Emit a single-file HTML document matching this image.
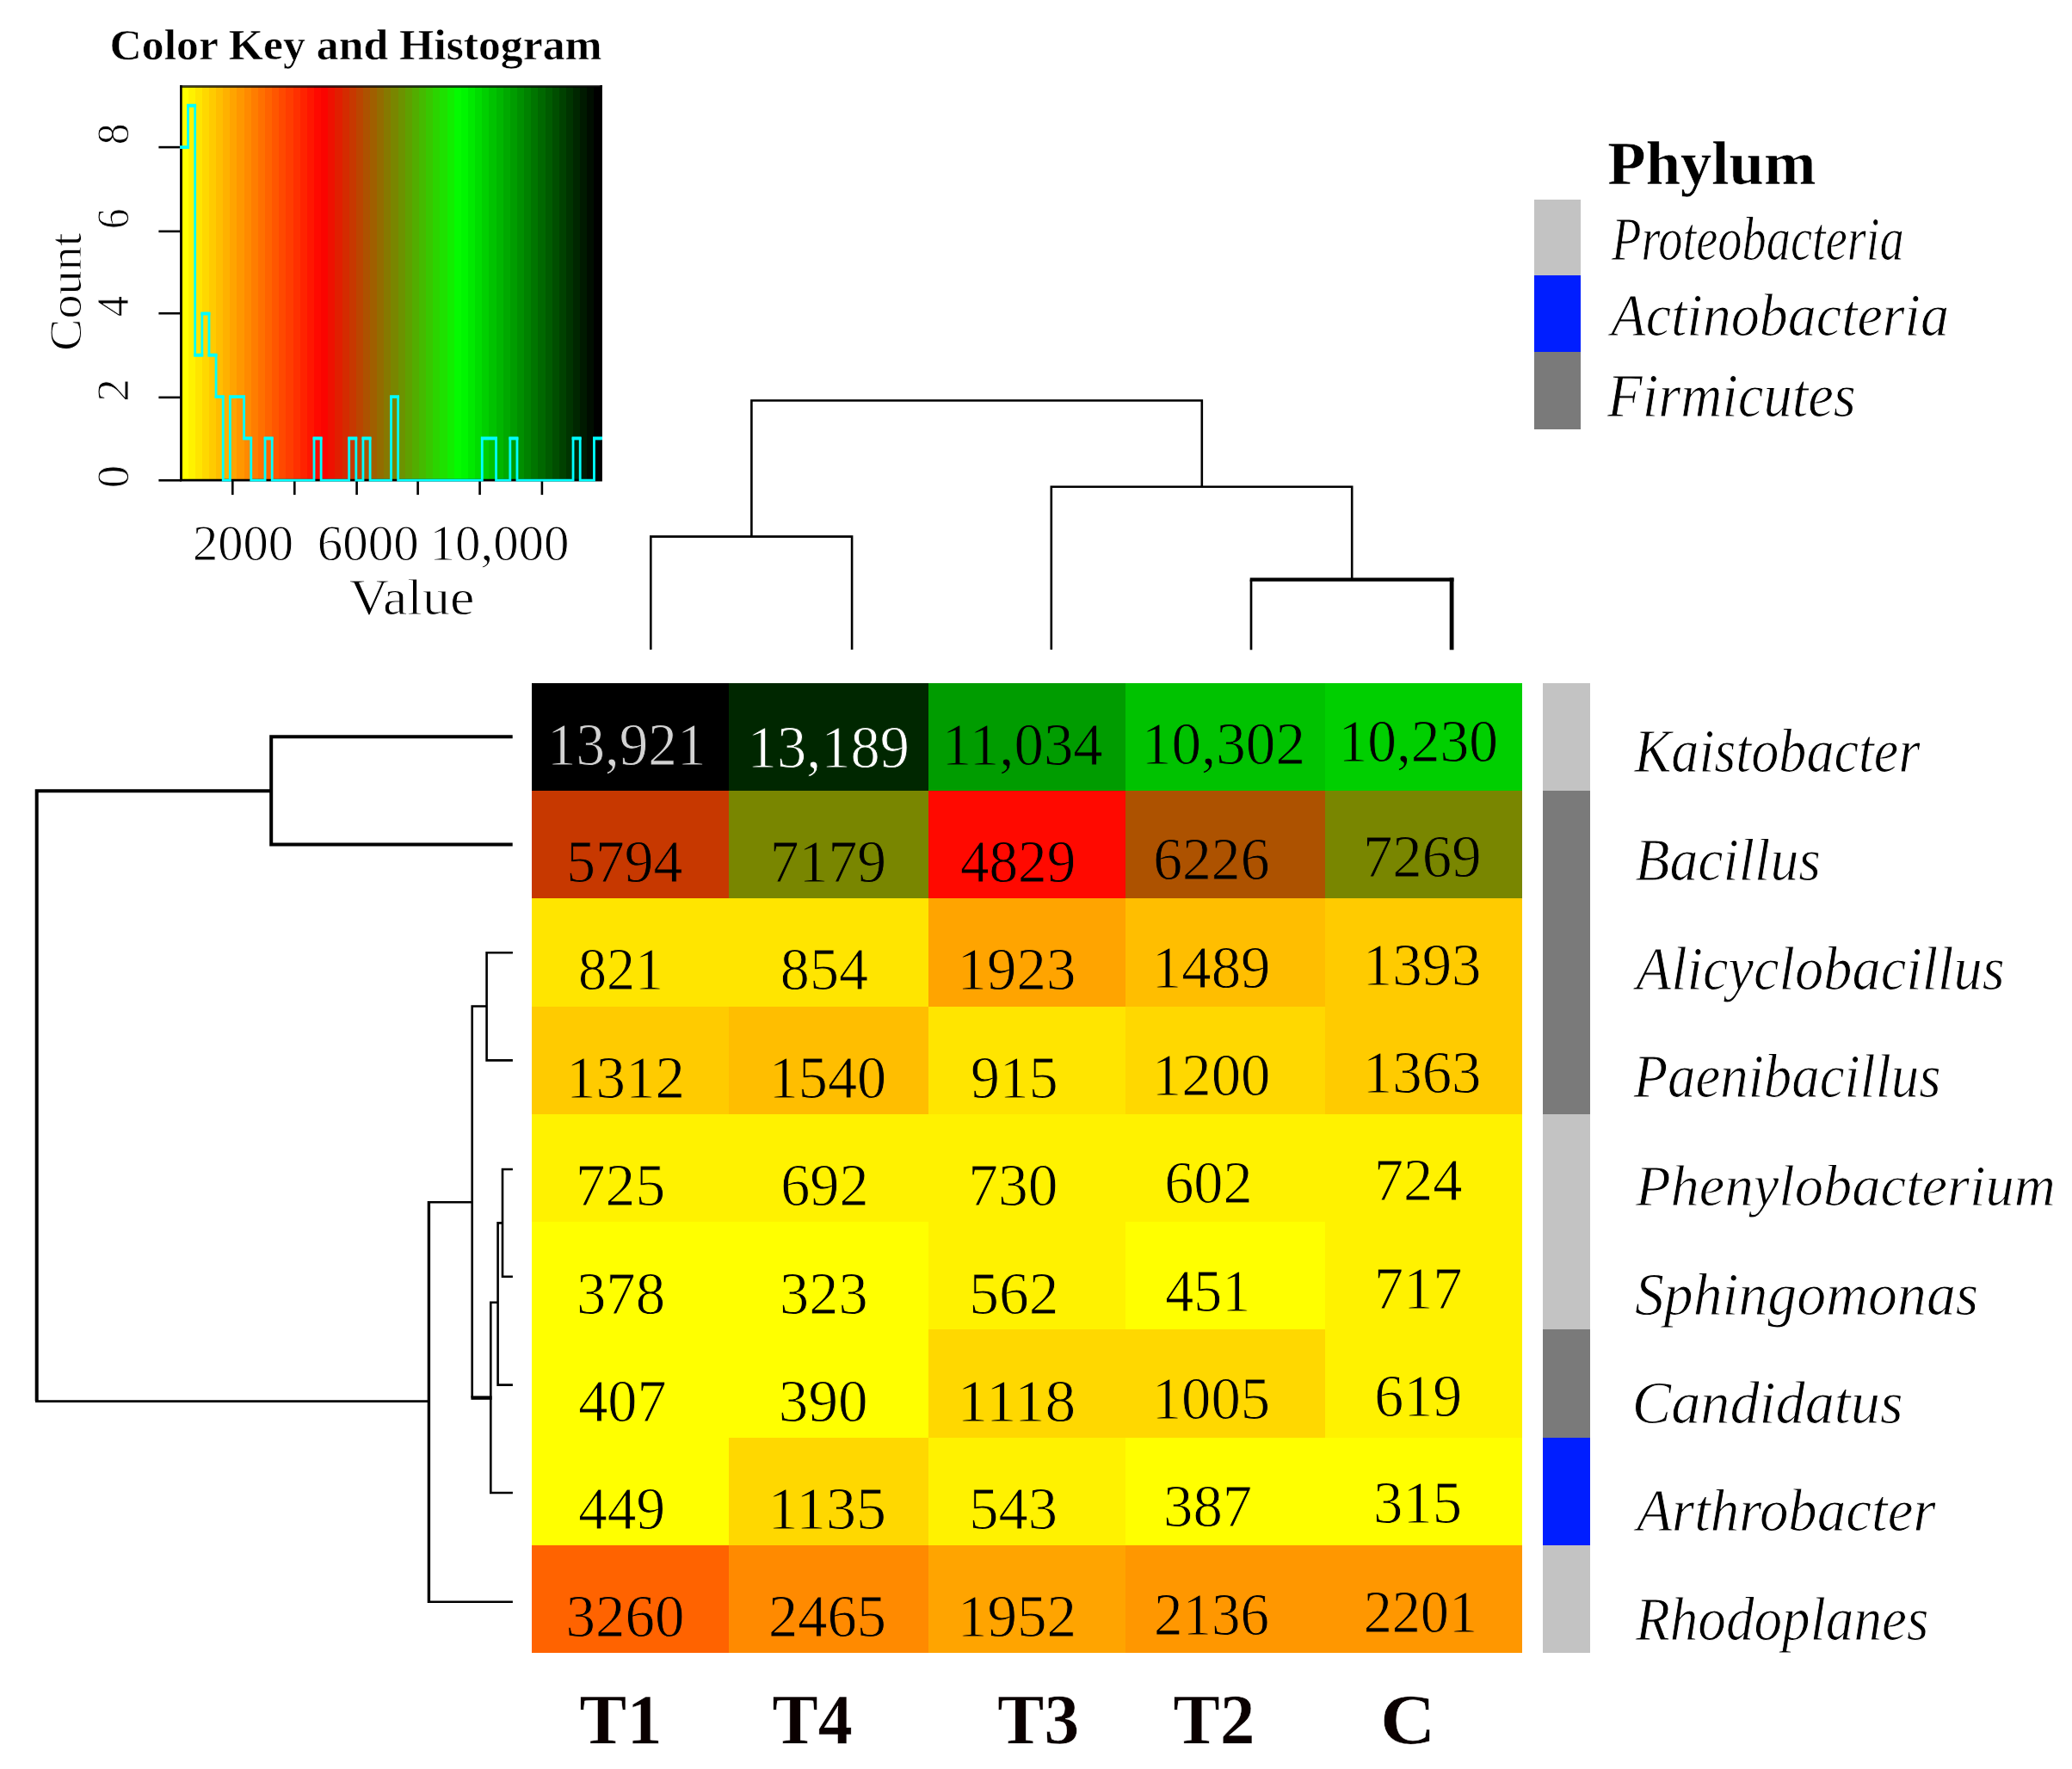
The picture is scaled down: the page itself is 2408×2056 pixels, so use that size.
<!DOCTYPE html>
<html><head><meta charset="utf-8"><title>Heatmap</title>
<style>
html,body{margin:0;padding:0;background:#fff;}
body{width:2408px;height:2056px;overflow:hidden;}
svg{display:block;}
text{font-family:"Liberation Serif","DejaVu Serif",serif;}
</style></head><body>
<svg width="2408" height="2056" viewBox="0 0 2408 2056">
<rect width="2408" height="2056" fill="#fff"/>
<defs><linearGradient id="kg" x1="0" y1="0" x2="1" y2="0"><stop offset="0.00000" stop-color="#FFFF00"/><stop offset="0.01667" stop-color="#FFFF00"/><stop offset="0.01667" stop-color="#FFF200"/><stop offset="0.03333" stop-color="#FFF200"/><stop offset="0.03333" stop-color="#FFE500"/><stop offset="0.05000" stop-color="#FFE500"/><stop offset="0.05000" stop-color="#FFD800"/><stop offset="0.06667" stop-color="#FFD800"/><stop offset="0.06667" stop-color="#FFCB00"/><stop offset="0.08333" stop-color="#FFCB00"/><stop offset="0.08333" stop-color="#FFBE00"/><stop offset="0.10000" stop-color="#FFBE00"/><stop offset="0.10000" stop-color="#FFB100"/><stop offset="0.11667" stop-color="#FFB100"/><stop offset="0.11667" stop-color="#FFA400"/><stop offset="0.13333" stop-color="#FFA400"/><stop offset="0.13333" stop-color="#FF9700"/><stop offset="0.15000" stop-color="#FF9700"/><stop offset="0.15000" stop-color="#FF8A00"/><stop offset="0.16667" stop-color="#FF8A00"/><stop offset="0.16667" stop-color="#FF7D00"/><stop offset="0.18333" stop-color="#FF7D00"/><stop offset="0.18333" stop-color="#FF7000"/><stop offset="0.20000" stop-color="#FF7000"/><stop offset="0.20000" stop-color="#FF6300"/><stop offset="0.21667" stop-color="#FF6300"/><stop offset="0.21667" stop-color="#FF5600"/><stop offset="0.23333" stop-color="#FF5600"/><stop offset="0.23333" stop-color="#FF4900"/><stop offset="0.25000" stop-color="#FF4900"/><stop offset="0.25000" stop-color="#FF3D00"/><stop offset="0.26667" stop-color="#FF3D00"/><stop offset="0.26667" stop-color="#FF3000"/><stop offset="0.28333" stop-color="#FF3000"/><stop offset="0.28333" stop-color="#FF2300"/><stop offset="0.30000" stop-color="#FF2300"/><stop offset="0.30000" stop-color="#FF1600"/><stop offset="0.31667" stop-color="#FF1600"/><stop offset="0.31667" stop-color="#FF0900"/><stop offset="0.33333" stop-color="#FF0900"/><stop offset="0.33333" stop-color="#FB0400"/><stop offset="0.35000" stop-color="#FB0400"/><stop offset="0.35000" stop-color="#EE1100"/><stop offset="0.36667" stop-color="#EE1100"/><stop offset="0.36667" stop-color="#E11E00"/><stop offset="0.38333" stop-color="#E11E00"/><stop offset="0.38333" stop-color="#D42B00"/><stop offset="0.40000" stop-color="#D42B00"/><stop offset="0.40000" stop-color="#C73800"/><stop offset="0.41667" stop-color="#C73800"/><stop offset="0.41667" stop-color="#BA4500"/><stop offset="0.43333" stop-color="#BA4500"/><stop offset="0.43333" stop-color="#AD5200"/><stop offset="0.45000" stop-color="#AD5200"/><stop offset="0.45000" stop-color="#A05F00"/><stop offset="0.46667" stop-color="#A05F00"/><stop offset="0.46667" stop-color="#936C00"/><stop offset="0.48333" stop-color="#936C00"/><stop offset="0.48333" stop-color="#867900"/><stop offset="0.50000" stop-color="#867900"/><stop offset="0.50000" stop-color="#798600"/><stop offset="0.51667" stop-color="#798600"/><stop offset="0.51667" stop-color="#6C9300"/><stop offset="0.53333" stop-color="#6C9300"/><stop offset="0.53333" stop-color="#5FA000"/><stop offset="0.55000" stop-color="#5FA000"/><stop offset="0.55000" stop-color="#52AD00"/><stop offset="0.56667" stop-color="#52AD00"/><stop offset="0.56667" stop-color="#45BA00"/><stop offset="0.58333" stop-color="#45BA00"/><stop offset="0.58333" stop-color="#38C700"/><stop offset="0.60000" stop-color="#38C700"/><stop offset="0.60000" stop-color="#2BD400"/><stop offset="0.61667" stop-color="#2BD400"/><stop offset="0.61667" stop-color="#1EE100"/><stop offset="0.63333" stop-color="#1EE100"/><stop offset="0.63333" stop-color="#11EE00"/><stop offset="0.65000" stop-color="#11EE00"/><stop offset="0.65000" stop-color="#04FB00"/><stop offset="0.66667" stop-color="#04FB00"/><stop offset="0.66667" stop-color="#00F600"/><stop offset="0.68333" stop-color="#00F600"/><stop offset="0.68333" stop-color="#00E900"/><stop offset="0.70000" stop-color="#00E900"/><stop offset="0.70000" stop-color="#00DC00"/><stop offset="0.71667" stop-color="#00DC00"/><stop offset="0.71667" stop-color="#00CF00"/><stop offset="0.73333" stop-color="#00CF00"/><stop offset="0.73333" stop-color="#00C200"/><stop offset="0.75000" stop-color="#00C200"/><stop offset="0.75000" stop-color="#00B600"/><stop offset="0.76667" stop-color="#00B600"/><stop offset="0.76667" stop-color="#00A900"/><stop offset="0.78333" stop-color="#00A900"/><stop offset="0.78333" stop-color="#009C00"/><stop offset="0.80000" stop-color="#009C00"/><stop offset="0.80000" stop-color="#008F00"/><stop offset="0.81667" stop-color="#008F00"/><stop offset="0.81667" stop-color="#008200"/><stop offset="0.83333" stop-color="#008200"/><stop offset="0.83333" stop-color="#007500"/><stop offset="0.85000" stop-color="#007500"/><stop offset="0.85000" stop-color="#006800"/><stop offset="0.86667" stop-color="#006800"/><stop offset="0.86667" stop-color="#005B00"/><stop offset="0.88333" stop-color="#005B00"/><stop offset="0.88333" stop-color="#004E00"/><stop offset="0.90000" stop-color="#004E00"/><stop offset="0.90000" stop-color="#004100"/><stop offset="0.91667" stop-color="#004100"/><stop offset="0.91667" stop-color="#003400"/><stop offset="0.93333" stop-color="#003400"/><stop offset="0.93333" stop-color="#002700"/><stop offset="0.95000" stop-color="#002700"/><stop offset="0.95000" stop-color="#001A00"/><stop offset="0.96667" stop-color="#001A00"/><stop offset="0.96667" stop-color="#000D00"/><stop offset="0.98333" stop-color="#000D00"/><stop offset="0.98333" stop-color="#000000"/><stop offset="1.00000" stop-color="#000000"/></linearGradient></defs>
<rect x="210.4" y="100.2" width="488.20" height="457.90" fill="url(#kg)"/>
<path d="M210.4,98.9 V558.1 H698.6 V98.9" fill="none" stroke="#000" stroke-width="2.6"/>
<line x1="209.1" y1="100.4" x2="699.9" y2="100.4" stroke="#000" stroke-opacity="0.72" stroke-width="3"/>
<line x1="184.4" y1="558.3" x2="211" y2="558.3" stroke="#000" stroke-width="2.6"/>
<line x1="184.4" y1="461.9" x2="211" y2="461.9" stroke="#000" stroke-width="2.6"/>
<line x1="184.4" y1="364.2" x2="211" y2="364.2" stroke="#000" stroke-width="2.6"/>
<line x1="184.4" y1="268.9" x2="211" y2="268.9" stroke="#000" stroke-width="2.6"/>
<line x1="184.4" y1="171.1" x2="211" y2="171.1" stroke="#000" stroke-width="2.6"/>
<line x1="210.4" y1="171.1" x2="210.4" y2="558.3" stroke="#000" stroke-width="2.6"/>
<line x1="270.3" y1="558" x2="270.3" y2="575.1" stroke="#000" stroke-width="2.6"/>
<line x1="342.3" y1="558" x2="342.3" y2="575.1" stroke="#000" stroke-width="2.6"/>
<line x1="414.6" y1="558" x2="414.6" y2="575.1" stroke="#000" stroke-width="2.6"/>
<line x1="485.6" y1="558" x2="485.6" y2="575.1" stroke="#000" stroke-width="2.6"/>
<line x1="557.6" y1="558" x2="557.6" y2="575.1" stroke="#000" stroke-width="2.6"/>
<line x1="629.9" y1="558" x2="629.9" y2="575.1" stroke="#000" stroke-width="2.6"/>
<polyline fill="none" stroke="#00FFFF" stroke-width="2.8" stroke-linejoin="miter" points="210.40,171.43 218.54,171.43 218.54,123.10 226.67,123.10 226.67,413.10 234.81,413.10 234.81,364.76 242.95,364.76 242.95,413.10 251.08,413.10 251.08,461.43 259.22,461.43 259.22,558.10 267.36,558.10 267.36,461.43 275.49,461.43 275.49,461.43 283.63,461.43 283.63,509.77 291.77,509.77 291.77,558.10 299.90,558.10 299.90,558.10 308.04,558.10 308.04,509.77 316.18,509.77 316.18,558.10 324.31,558.10 324.31,558.10 332.45,558.10 332.45,558.10 340.59,558.10 340.59,558.10 348.72,558.10 348.72,558.10 356.86,558.10 356.86,558.10 365.00,558.10 365.00,509.77 373.13,509.77 373.13,558.10 381.27,558.10 381.27,558.10 389.41,558.10 389.41,558.10 397.54,558.10 397.54,558.10 405.68,558.10 405.68,509.77 413.82,509.77 413.82,558.10 421.95,558.10 421.95,509.77 430.09,509.77 430.09,558.10 438.23,558.10 438.23,558.10 446.36,558.10 446.36,558.10 454.50,558.10 454.50,461.43 462.64,461.43 462.64,558.10 470.77,558.10 470.77,558.10 478.91,558.10 478.91,558.10 487.05,558.10 487.05,558.10 495.18,558.10 495.18,558.10 503.32,558.10 503.32,558.10 511.46,558.10 511.46,558.10 519.59,558.10 519.59,558.10 527.73,558.10 527.73,558.10 535.87,558.10 535.87,558.10 544.00,558.10 544.00,558.10 552.14,558.10 552.14,558.10 560.28,558.10 560.28,509.77 568.41,509.77 568.41,509.77 576.55,509.77 576.55,558.10 584.69,558.10 584.69,558.10 592.82,558.10 592.82,509.77 600.96,509.77 600.96,558.10 609.10,558.10 609.10,558.10 617.23,558.10 617.23,558.10 625.37,558.10 625.37,558.10 633.51,558.10 633.51,558.10 641.64,558.10 641.64,558.10 649.78,558.10 649.78,558.10 657.92,558.10 657.92,558.10 666.05,558.10 666.05,509.77 674.19,509.77 674.19,558.10 682.33,558.10 682.33,558.10 690.46,558.10 690.46,509.77 698.60,509.77 698.60,509.77"/>
<path fill="none" stroke="#00FFFF" stroke-width="3.8" d="M209.00,171.03 H219.94 M217.14,122.70 H228.07 M225.27,412.70 H236.21 M233.41,364.36 H244.35 M241.55,412.70 H252.48 M249.68,461.03 H260.62 M265.96,461.03 H276.89 M274.09,461.03 H285.03 M282.23,509.37 H293.17 M306.64,509.37 H317.58 M363.60,509.37 H374.53 M404.28,509.37 H415.22 M420.55,509.37 H431.49 M453.10,461.03 H464.04 M558.88,509.37 H569.81 M567.01,509.37 H577.95 M591.42,509.37 H602.36 M664.65,509.37 H675.59 M689.06,509.37 H700.00"/>
<path d="M756.3,755.1 V623.6 H990.1 V755.1" fill="none" stroke="#000" stroke-width="2.6" stroke-linejoin="miter" stroke-linecap="butt"/>
<path d="M1454,755.3 V673.6" fill="none" stroke="#000" stroke-width="2.7" stroke-linejoin="miter" stroke-linecap="butt"/>
<path d="M1452.7,673.6 H1689.5" fill="none" stroke="#000" stroke-width="4.2" stroke-linejoin="miter" stroke-linecap="butt"/>
<path d="M1687.1,671.6 V755.3" fill="none" stroke="#000" stroke-width="4.8" stroke-linejoin="miter" stroke-linecap="butt"/>
<path d="M1221.8,755.1 V565.8 H1571.2 V672" fill="none" stroke="#000" stroke-width="2.6" stroke-linejoin="miter" stroke-linecap="butt"/>
<path d="M873.4,623.6 V465.5 H1396.8 V565.8" fill="none" stroke="#000" stroke-width="2.6" stroke-linejoin="miter" stroke-linecap="butt"/>
<path d="M595.7,856.3 H315.2 V981.5 H595.7" fill="none" stroke="#000" stroke-width="4.0" stroke-linejoin="miter" stroke-linecap="butt"/>
<path d="M315.2,919.2 H42.7 V1628.6" fill="none" stroke="#000" stroke-width="4.0" stroke-linejoin="miter" stroke-linecap="butt"/>
<path d="M41,1628.6 H498.5" fill="none" stroke="#000" stroke-width="2.7" stroke-linejoin="miter" stroke-linecap="butt"/>
<path d="M595.9,1861.7 H498.5" fill="none" stroke="#000" stroke-width="2.6" stroke-linejoin="miter" stroke-linecap="butt"/>
<path d="M498.4,1863 V1395.9" fill="none" stroke="#000" stroke-width="3.4" stroke-linejoin="miter" stroke-linecap="butt"/>
<path d="M498.5,1397.2 H548.7" fill="none" stroke="#000" stroke-width="2.6" stroke-linejoin="miter" stroke-linecap="butt"/>
<path d="M595.9,1107.3 H565.6 V1232.4 H595.9" fill="none" stroke="#000" stroke-width="2.6" stroke-linejoin="miter" stroke-linecap="butt"/>
<path d="M565.6,1169.5 H548.7 V1624.6" fill="none" stroke="#000" stroke-width="2.6" stroke-linejoin="miter" stroke-linecap="butt"/>
<path d="M547.4,1624.6 H571.6" fill="none" stroke="#000" stroke-width="4.4" stroke-linejoin="miter" stroke-linecap="butt"/>
<path d="M595.9,1735 H570.3 V1513.8 H578.6" fill="none" stroke="#000" stroke-width="2.6" stroke-linejoin="miter" stroke-linecap="butt"/>
<path d="M595.9,1609.6 H578.6 V1421.4 H584" fill="none" stroke="#000" stroke-width="2.6" stroke-linejoin="miter" stroke-linecap="butt"/>
<path d="M595.9,1359 H584 V1483.7 H595.9" fill="none" stroke="#000" stroke-width="2.6" stroke-linejoin="miter" stroke-linecap="butt"/>
<rect x="618" y="794" width="229" height="125" fill="#000000" shape-rendering="crispEdges"/>
<rect x="847" y="794" width="232" height="125" fill="#002700" shape-rendering="crispEdges"/>
<rect x="1079" y="794" width="229" height="125" fill="#009C00" shape-rendering="crispEdges"/>
<rect x="1308" y="794" width="232" height="125" fill="#00C200" shape-rendering="crispEdges"/>
<rect x="1540" y="794" width="229" height="125" fill="#00CF00" shape-rendering="crispEdges"/>
<rect x="618" y="919" width="229" height="125" fill="#C73800" shape-rendering="crispEdges"/>
<rect x="847" y="919" width="232" height="125" fill="#798600" shape-rendering="crispEdges"/>
<rect x="1079" y="919" width="229" height="125" fill="#FF0900" shape-rendering="crispEdges"/>
<rect x="1308" y="919" width="232" height="125" fill="#AD5200" shape-rendering="crispEdges"/>
<rect x="1540" y="919" width="229" height="125" fill="#798600" shape-rendering="crispEdges"/>
<rect x="618" y="1044" width="229" height="126" fill="#FFE500" shape-rendering="crispEdges"/>
<rect x="847" y="1044" width="232" height="126" fill="#FFE500" shape-rendering="crispEdges"/>
<rect x="1079" y="1044" width="229" height="126" fill="#FFA400" shape-rendering="crispEdges"/>
<rect x="1308" y="1044" width="232" height="126" fill="#FFBE00" shape-rendering="crispEdges"/>
<rect x="1540" y="1044" width="229" height="126" fill="#FFCB00" shape-rendering="crispEdges"/>
<rect x="618" y="1170" width="229" height="125" fill="#FFCB00" shape-rendering="crispEdges"/>
<rect x="847" y="1170" width="232" height="125" fill="#FFBE00" shape-rendering="crispEdges"/>
<rect x="1079" y="1170" width="229" height="125" fill="#FFE500" shape-rendering="crispEdges"/>
<rect x="1308" y="1170" width="232" height="125" fill="#FFD800" shape-rendering="crispEdges"/>
<rect x="1540" y="1170" width="229" height="125" fill="#FFCB00" shape-rendering="crispEdges"/>
<rect x="618" y="1295" width="229" height="125" fill="#FFF200" shape-rendering="crispEdges"/>
<rect x="847" y="1295" width="232" height="125" fill="#FFF200" shape-rendering="crispEdges"/>
<rect x="1079" y="1295" width="229" height="125" fill="#FFF200" shape-rendering="crispEdges"/>
<rect x="1308" y="1295" width="232" height="125" fill="#FFF200" shape-rendering="crispEdges"/>
<rect x="1540" y="1295" width="229" height="125" fill="#FFF200" shape-rendering="crispEdges"/>
<rect x="618" y="1420" width="229" height="125" fill="#FFFF00" shape-rendering="crispEdges"/>
<rect x="847" y="1420" width="232" height="125" fill="#FFFF00" shape-rendering="crispEdges"/>
<rect x="1079" y="1420" width="229" height="125" fill="#FFF200" shape-rendering="crispEdges"/>
<rect x="1308" y="1420" width="232" height="125" fill="#FFFF00" shape-rendering="crispEdges"/>
<rect x="1540" y="1420" width="229" height="125" fill="#FFF200" shape-rendering="crispEdges"/>
<rect x="618" y="1545" width="229" height="126" fill="#FFFF00" shape-rendering="crispEdges"/>
<rect x="847" y="1545" width="232" height="126" fill="#FFFF00" shape-rendering="crispEdges"/>
<rect x="1079" y="1545" width="229" height="126" fill="#FFD800" shape-rendering="crispEdges"/>
<rect x="1308" y="1545" width="232" height="126" fill="#FFD800" shape-rendering="crispEdges"/>
<rect x="1540" y="1545" width="229" height="126" fill="#FFF200" shape-rendering="crispEdges"/>
<rect x="618" y="1671" width="229" height="125" fill="#FFFF00" shape-rendering="crispEdges"/>
<rect x="847" y="1671" width="232" height="125" fill="#FFD800" shape-rendering="crispEdges"/>
<rect x="1079" y="1671" width="229" height="125" fill="#FFF200" shape-rendering="crispEdges"/>
<rect x="1308" y="1671" width="232" height="125" fill="#FFFF00" shape-rendering="crispEdges"/>
<rect x="1540" y="1671" width="229" height="125" fill="#FFFF00" shape-rendering="crispEdges"/>
<rect x="618" y="1796" width="229" height="125" fill="#FF6300" shape-rendering="crispEdges"/>
<rect x="847" y="1796" width="232" height="125" fill="#FF8A00" shape-rendering="crispEdges"/>
<rect x="1079" y="1796" width="229" height="125" fill="#FFA400" shape-rendering="crispEdges"/>
<rect x="1308" y="1796" width="232" height="125" fill="#FF9700" shape-rendering="crispEdges"/>
<rect x="1540" y="1796" width="229" height="125" fill="#FF9700" shape-rendering="crispEdges"/>
<rect x="1793" y="794" width="55" height="125" fill="#C3C3C3" shape-rendering="crispEdges"/>
<rect x="1793" y="919" width="55" height="376" fill="#7A7A7A" shape-rendering="crispEdges"/>
<rect x="1793" y="1295" width="55" height="250" fill="#C3C3C3" shape-rendering="crispEdges"/>
<rect x="1793" y="1545" width="55" height="126" fill="#7A7A7A" shape-rendering="crispEdges"/>
<rect x="1793" y="1671" width="55" height="125" fill="#001EFF" shape-rendering="crispEdges"/>
<rect x="1793" y="1796" width="55" height="125" fill="#C3C3C3" shape-rendering="crispEdges"/>
<rect x="1783" y="232" width="54" height="88" fill="#C3C3C3" shape-rendering="crispEdges"/>
<rect x="1783" y="320" width="54" height="89" fill="#001EFF" shape-rendering="crispEdges"/>
<rect x="1783" y="409" width="54" height="90" fill="#7A7A7A" shape-rendering="crispEdges"/>
<text transform="translate(127.48,69.20) scale(1.0186,1)" font-size="50.77" font-style="normal" font-weight="bold" fill="#000" stroke="#FFFFFF" stroke-width="0.5">Color Key and Histogram</text>
<text transform="translate(223.97,651.00) scale(0.9964,1)" font-size="58.79" font-style="normal" font-weight="normal" fill="#000" stroke="#FFFFFF" stroke-width="0.9">2000</text>
<text transform="translate(368.76,651.00) scale(1.0026,1)" font-size="58.79" font-style="normal" font-weight="normal" fill="#000" stroke="#FFFFFF" stroke-width="0.9">6000</text>
<text transform="translate(499.50,651.00) scale(1.0023,1)" font-size="58.79" font-style="normal" font-weight="normal" fill="#000" stroke="#FFFFFF" stroke-width="0.9">10,000</text>
<text transform="translate(405.80,713.60) scale(1.0731,1)" font-size="59.59" font-style="normal" font-weight="normal" fill="#000" stroke="#FFFFFF" stroke-width="0.9">Value</text>
<text transform="translate(673.62,2026.30) scale(0.9852,1)" font-size="83.35" font-style="normal" font-weight="bold" fill="#0a0000" stroke="#FFFFFF" stroke-width="0.5">T1</text>
<text transform="translate(897.55,2026.30) scale(0.9581,1)" font-size="83.35" font-style="normal" font-weight="bold" fill="#0a0000" stroke="#FFFFFF" stroke-width="0.5">T4</text>
<text transform="translate(1159.03,2026.30) scale(0.9779,1)" font-size="83.35" font-style="normal" font-weight="bold" fill="#0a0000" stroke="#FFFFFF" stroke-width="0.5">T3</text>
<text transform="translate(1363.43,2026.30) scale(0.9779,1)" font-size="83.35" font-style="normal" font-weight="bold" fill="#0a0000" stroke="#FFFFFF" stroke-width="0.5">T2</text>
<text transform="translate(1604.02,2026.30) scale(1.0691,1)" font-size="83.35" font-style="normal" font-weight="bold" fill="#0a0000" stroke="#FFFFFF" stroke-width="0.5">C</text>
<text transform="translate(1899.50,897.40) scale(0.8913,1)" font-size="72.08" font-style="italic" font-weight="normal" fill="#000" stroke="#FFFFFF" stroke-width="0.9">Kaistobacter</text>
<text transform="translate(1900.20,1022.50) scale(0.9351,1)" font-size="70.40" font-style="italic" font-weight="normal" fill="#000" stroke="#FFFFFF" stroke-width="0.9">Bacillus</text>
<text transform="translate(1901.55,1149.80) scale(0.9304,1)" font-size="71.44" font-style="italic" font-weight="normal" fill="#000" stroke="#FFFFFF" stroke-width="0.9">Alicyclobacillus</text>
<text transform="translate(1898.41,1275.30) scale(0.9123,1)" font-size="71.16" font-style="italic" font-weight="normal" fill="#000" stroke="#FFFFFF" stroke-width="0.9">Paenibacillus</text>
<text transform="translate(1900.94,1400.70) scale(0.9774,1)" font-size="68.11" font-style="italic" font-weight="normal" fill="#000" stroke="#FFFFFF" stroke-width="0.9">Phenylobacterium</text>
<text transform="translate(1899.90,1527.60) scale(0.9776,1)" font-size="69.36" font-style="italic" font-weight="normal" fill="#000" stroke="#FFFFFF" stroke-width="0.9">Sphingomonas</text>
<text transform="translate(1896.70,1653.60) scale(0.9759,1)" font-size="69.95" font-style="italic" font-weight="normal" fill="#000" stroke="#FFFFFF" stroke-width="0.9">Candidatus</text>
<text transform="translate(1902.19,1779.40) scale(0.9637,1)" font-size="69.51" font-style="italic" font-weight="normal" fill="#000" stroke="#FFFFFF" stroke-width="0.9">Arthrobacter</text>
<text transform="translate(1900.92,1906.20) scale(0.9181,1)" font-size="71.01" font-style="italic" font-weight="normal" fill="#000" stroke="#FFFFFF" stroke-width="0.9">Rhodoplanes</text>
<text transform="translate(1868.37,213.80) scale(0.9965,1)" font-size="72.84" font-style="normal" font-weight="bold" fill="#000" stroke="#FFFFFF" stroke-width="0.5">Phylum</text>
<text transform="translate(1872.88,301.60) scale(0.7902,1)" font-size="71.47" font-style="italic" font-weight="normal" fill="#000" stroke="#FFFFFF" stroke-width="0.9">Proteobacteria</text>
<text transform="translate(1872.33,390.20) scale(0.9467,1)" font-size="69.80" font-style="italic" font-weight="normal" fill="#000" stroke="#FFFFFF" stroke-width="0.9">Actinobacteria</text>
<text transform="translate(1867.94,484.00) scale(0.9329,1)" font-size="71.47" font-style="italic" font-weight="normal" fill="#000" stroke="#FFFFFF" stroke-width="0.9">Firmicutes</text>
<text transform="translate(636.06,889.10) scale(0.9730,1)" font-size="68.91" font-style="normal" font-weight="normal" fill="#D3D3D3" stroke="#000000" stroke-width="0.9">13,921</text>
<text transform="translate(868.86,891.70) scale(0.9925,1)" font-size="68.91" font-style="normal" font-weight="normal" fill="#FFFFFF" stroke="#002700" stroke-width="0.9">13,189</text>
<text transform="translate(1094.81,889.10) scale(1.0006,1)" font-size="68.91" font-style="normal" font-weight="normal" fill="#000" stroke="#009C00" stroke-width="0.9">11,034</text>
<text transform="translate(1326.80,888.40) scale(1.0039,1)" font-size="68.91" font-style="normal" font-weight="normal" fill="#000" stroke="#00C200" stroke-width="0.9">10,302</text>
<text transform="translate(1555.42,885.00) scale(0.9798,1)" font-size="68.91" font-style="normal" font-weight="normal" fill="#000" stroke="#00CF00" stroke-width="0.9">10,230</text>
<text transform="translate(658.13,1025.00) scale(0.9804,1)" font-size="68.91" font-style="normal" font-weight="normal" fill="#000" stroke="#C73800" stroke-width="0.9">5794</text>
<text transform="translate(894.77,1025.00) scale(0.9820,1)" font-size="68.91" font-style="normal" font-weight="normal" fill="#000" stroke="#798600" stroke-width="0.9">7179</text>
<text transform="translate(1115.95,1025.20) scale(0.9748,1)" font-size="68.91" font-style="normal" font-weight="normal" fill="#000" stroke="#FF0900" stroke-width="0.9">4829</text>
<text transform="translate(1340.29,1022.10) scale(0.9807,1)" font-size="68.91" font-style="normal" font-weight="normal" fill="#000" stroke="#AD5200" stroke-width="0.9">6226</text>
<text transform="translate(1583.90,1019.30) scale(0.9988,1)" font-size="68.91" font-style="normal" font-weight="normal" fill="#000" stroke="#798600" stroke-width="0.9">7269</text>
<text transform="translate(672.04,1150.20) scale(0.9583,1)" font-size="68.91" font-style="normal" font-weight="normal" fill="#000" stroke="#FFE500" stroke-width="0.9">821</text>
<text transform="translate(906.87,1150.20) scale(0.9886,1)" font-size="68.91" font-style="normal" font-weight="normal" fill="#000" stroke="#FFE500" stroke-width="0.9">854</text>
<text transform="translate(1112.62,1150.30) scale(0.9993,1)" font-size="68.91" font-style="normal" font-weight="normal" fill="#000" stroke="#FFA400" stroke-width="0.9">1923</text>
<text transform="translate(1338.82,1148.00) scale(0.9993,1)" font-size="68.91" font-style="normal" font-weight="normal" fill="#000" stroke="#FFBE00" stroke-width="0.9">1489</text>
<text transform="translate(1583.82,1144.50) scale(0.9993,1)" font-size="68.91" font-style="normal" font-weight="normal" fill="#000" stroke="#FFCB00" stroke-width="0.9">1393</text>
<text transform="translate(658.11,1275.80) scale(1.0007,1)" font-size="68.91" font-style="normal" font-weight="normal" fill="#000" stroke="#FFCB00" stroke-width="0.9">1312</text>
<text transform="translate(893.67,1275.80) scale(0.9901,1)" font-size="68.91" font-style="normal" font-weight="normal" fill="#000" stroke="#FFBE00" stroke-width="0.9">1540</text>
<text transform="translate(1127.88,1275.80) scale(0.9853,1)" font-size="68.91" font-style="normal" font-weight="normal" fill="#000" stroke="#FFE500" stroke-width="0.9">915</text>
<text transform="translate(1338.82,1273.00) scale(0.9993,1)" font-size="68.91" font-style="normal" font-weight="normal" fill="#000" stroke="#FFD800" stroke-width="0.9">1200</text>
<text transform="translate(1583.82,1270.30) scale(0.9993,1)" font-size="68.91" font-style="normal" font-weight="normal" fill="#000" stroke="#FFCB00" stroke-width="0.9">1363</text>
<text transform="translate(668.85,1400.60) scale(1.0092,1)" font-size="68.91" font-style="normal" font-weight="normal" fill="#000" stroke="#FFF200" stroke-width="0.9">725</text>
<text transform="translate(907.17,1400.60) scale(0.9910,1)" font-size="68.91" font-style="normal" font-weight="normal" fill="#000" stroke="#FFF200" stroke-width="0.9">692</text>
<text transform="translate(1125.16,1400.50) scale(1.0082,1)" font-size="68.91" font-style="normal" font-weight="normal" fill="#000" stroke="#FFF200" stroke-width="0.9">730</text>
<text transform="translate(1353.16,1397.80) scale(0.9920,1)" font-size="68.91" font-style="normal" font-weight="normal" fill="#000" stroke="#FFF200" stroke-width="0.9">602</text>
<text transform="translate(1596.71,1395.00) scale(0.9961,1)" font-size="68.91" font-style="normal" font-weight="normal" fill="#000" stroke="#FFF200" stroke-width="0.9">724</text>
<text transform="translate(669.98,1526.50) scale(0.9981,1)" font-size="68.91" font-style="normal" font-weight="normal" fill="#000" stroke="#FFFF00" stroke-width="0.9">378</text>
<text transform="translate(906.10,1526.50) scale(0.9910,1)" font-size="68.91" font-style="normal" font-weight="normal" fill="#000" stroke="#FFFF00" stroke-width="0.9">323</text>
<text transform="translate(1126.24,1526.50) scale(1.0082,1)" font-size="68.91" font-style="normal" font-weight="normal" fill="#000" stroke="#FFF200" stroke-width="0.9">562</text>
<text transform="translate(1354.27,1523.70) scale(0.9560,1)" font-size="68.91" font-style="normal" font-weight="normal" fill="#000" stroke="#FFFF00" stroke-width="0.9">451</text>
<text transform="translate(1596.71,1520.90) scale(0.9961,1)" font-size="68.91" font-style="normal" font-weight="normal" fill="#000" stroke="#FFF200" stroke-width="0.9">717</text>
<text transform="translate(672.13,1651.90) scale(0.9929,1)" font-size="68.91" font-style="normal" font-weight="normal" fill="#000" stroke="#FFFF00" stroke-width="0.9">407</text>
<text transform="translate(904.86,1651.90) scale(1.0032,1)" font-size="68.91" font-style="normal" font-weight="normal" fill="#000" stroke="#FFFF00" stroke-width="0.9">390</text>
<text transform="translate(1112.62,1651.80) scale(1.0370,1)" font-size="68.91" font-style="normal" font-weight="normal" fill="#000" stroke="#FFD800" stroke-width="0.9">1118</text>
<text transform="translate(1338.63,1649.10) scale(0.9978,1)" font-size="68.91" font-style="normal" font-weight="normal" fill="#000" stroke="#FFD800" stroke-width="0.9">1005</text>
<text transform="translate(1597.18,1646.30) scale(0.9863,1)" font-size="68.91" font-style="normal" font-weight="normal" fill="#000" stroke="#FFF200" stroke-width="0.9">619</text>
<text transform="translate(672.15,1777.40) scale(0.9767,1)" font-size="68.91" font-style="normal" font-weight="normal" fill="#000" stroke="#FFFF00" stroke-width="0.9">449</text>
<text transform="translate(892.53,1777.40) scale(1.0162,1)" font-size="68.91" font-style="normal" font-weight="normal" fill="#000" stroke="#FFD800" stroke-width="0.9">1135</text>
<text transform="translate(1126.29,1777.40) scale(0.9951,1)" font-size="68.91" font-style="normal" font-weight="normal" fill="#000" stroke="#FFF200" stroke-width="0.9">543</text>
<text transform="translate(1352.08,1774.00) scale(0.9984,1)" font-size="68.91" font-style="normal" font-weight="normal" fill="#000" stroke="#FFFF00" stroke-width="0.9">387</text>
<text transform="translate(1596.08,1770.10) scale(0.9971,1)" font-size="68.91" font-style="normal" font-weight="normal" fill="#000" stroke="#FFFF00" stroke-width="0.9">315</text>
<text transform="translate(657.56,1902.30) scale(1.0020,1)" font-size="68.91" font-style="normal" font-weight="normal" fill="#000" stroke="#FF6300" stroke-width="0.9">3260</text>
<text transform="translate(893.06,1902.30) scale(0.9931,1)" font-size="68.91" font-style="normal" font-weight="normal" fill="#000" stroke="#FF8A00" stroke-width="0.9">2465</text>
<text transform="translate(1112.79,1901.90) scale(1.0046,1)" font-size="68.91" font-style="normal" font-weight="normal" fill="#000" stroke="#FFA400" stroke-width="0.9">1952</text>
<text transform="translate(1340.90,1899.50) scale(0.9733,1)" font-size="68.91" font-style="normal" font-weight="normal" fill="#000" stroke="#FF9700" stroke-width="0.9">2136</text>
<text transform="translate(1584.73,1896.60) scale(0.9597,1)" font-size="68.91" font-style="normal" font-weight="normal" fill="#000" stroke="#FF9700" stroke-width="0.9">2201</text>
<text transform="translate(148.90,567.35) rotate(-90) scale(1.0050,1)" font-size="52.54" fill="#000" stroke="#FFFFFF" stroke-width="0.9">0</text>
<text transform="translate(148.90,466.87) rotate(-90) scale(1.0151,1)" font-size="52.54" fill="#000" stroke="#FFFFFF" stroke-width="0.9">2</text>
<text transform="translate(148.90,368.17) rotate(-90) scale(0.9339,1)" font-size="52.54" fill="#000" stroke="#FFFFFF" stroke-width="0.9">4</text>
<text transform="translate(148.90,266.30) rotate(-90) scale(0.9115,1)" font-size="52.54" fill="#000" stroke="#FFFFFF" stroke-width="0.9">6</text>
<text transform="translate(148.90,168.26) rotate(-90) scale(0.9484,1)" font-size="52.54" fill="#000" stroke="#FFFFFF" stroke-width="0.9">8</text>
<text transform="translate(93.99,407.96) rotate(-90) scale(1.0790,1)" font-size="52.07" fill="#000" stroke="#FFFFFF" stroke-width="0.9">Count</text>
</svg>
</body></html>
